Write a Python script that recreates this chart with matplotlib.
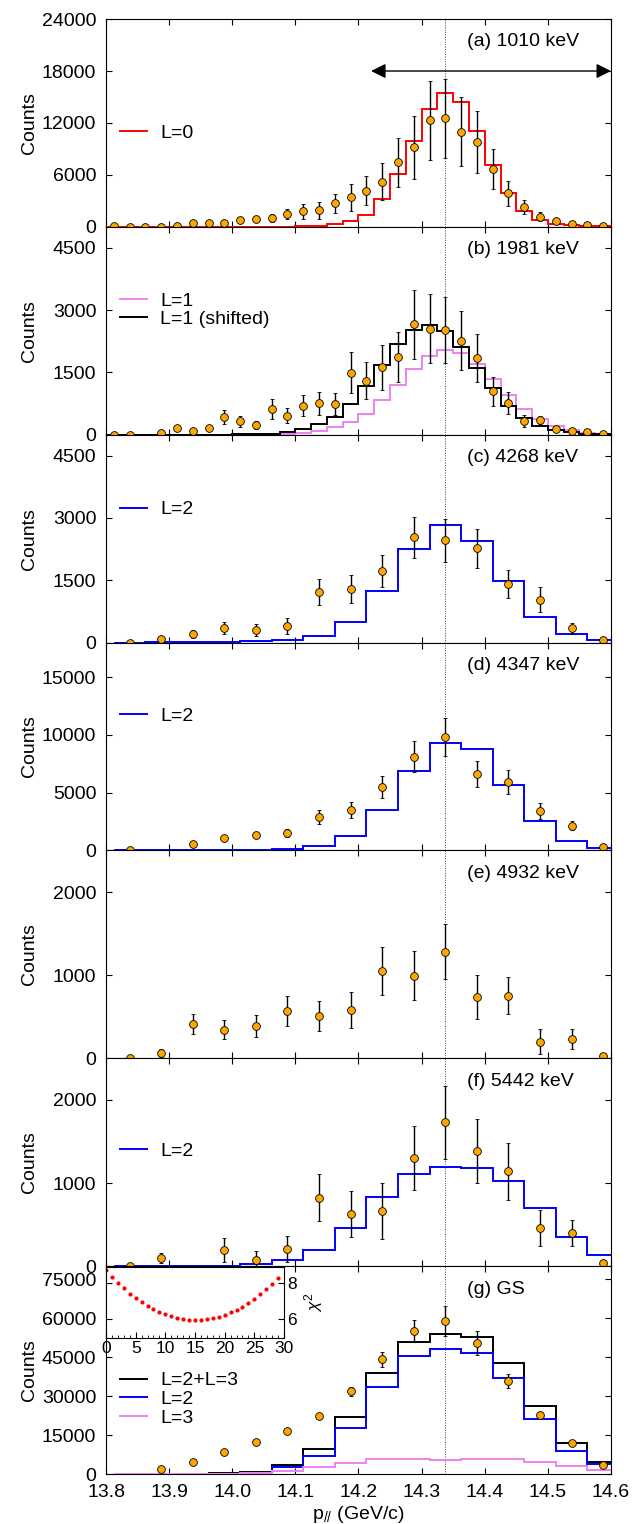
import numpy as np
import matplotlib
matplotlib.use('Agg')
import matplotlib.pyplot as plt
from matplotlib.ticker import MultipleLocator, FormatStrFormatter

plt.rcParams['font.family'] = ['Liberation Sans', 'DejaVu Sans']
plt.rcParams['mathtext.fontset'] = 'custom'
plt.rcParams['mathtext.rm'] = 'Liberation Sans'
plt.rcParams['mathtext.it'] = 'Liberation Sans:italic'
plt.rcParams['font.size'] = 14

# bin centres, p_par (GeV/c)
x_fine = [13.8125, 13.8375, 13.8625, 13.8875, 13.9125, 13.9375, 13.9625, 13.9875,
          14.0125, 14.0375, 14.0625, 14.0875, 14.1125, 14.1375, 14.1625, 14.1875,
          14.2125, 14.2375, 14.2625, 14.2875, 14.3125, 14.3375, 14.3625, 14.3875,
          14.4125, 14.4375, 14.4625, 14.4875, 14.5125, 14.5375, 14.5625, 14.5875]
x_coarse = [13.8375, 13.8875, 13.9375, 13.9875, 14.0375, 14.0875, 14.1375, 14.1875,
            14.2375, 14.2875, 14.3375, 14.3875, 14.4375, 14.4875, 14.5375, 14.5875]
x_ticks = [13.8, 13.9, 14.0, 14.1, 14.2, 14.3, 14.4, 14.5, 14.6]
nan = np.nan

# (a) 1010 keV
a_y = [50, 30, 40, 40, 150, 500, 400, 400, 800, 880, 1030, 1490, 1830, 1910, 2710, 3400,
       4200, 5240, 7450, 9210, 12300, 12570, 11000, 9860, 6650, 3860, 2290, 1150, 650, 340, 270, 150]
a_err = [50, 50, 50, 50, 100, 150, 150, 150, 300, 300, 500, 630, 860, 940, 1100, 1550,
         1700, 2100, 2870, 3630, 4530, 4560, 4000, 3580, 2300, 1410, 840, 520, 250, 150, 100, 80]
a_L0 = [0, 0, 0, 0, 0, 0, 0, 0, 0, 0, 20, 40, 60, 150, 350, 730,
        1410, 3170, 6080, 9900, 13640, 15510, 14450, 11120, 7110, 3900, 1800, 840, 380, 230, 150, 100]

# (b) 1981 keV
b_y = [0, 0, nan, 40, 170, 100, 170, 420, 320, 240, 620, 460, 700, 760, 740, 1490,
       1300, 1620, 1860, 2660, 2550, 2520, 2260, 1840, 1050, 760, 330, 360, 140, 100, 60, 20]
b_err = [20, 20, nan, 40, 50, 50, 50, 170, 140, 100, 230, 175, 260, 280, 265, 490,
         440, 540, 600, 830, 830, 790, 710, 580, 350, 265, 150, 100, 60, 40, 30, 20]
b_L1 = [0, 0, 0, 0, 0, 0, 0, 0, 0, 0, 5, 15, 50, 100, 190, 300,
        510, 840, 1190, 1580, 1890, 2030, 1960, 1700, 1330, 950, 615, 375, 215, 105, 50, 20]
b_L1s = [0, 0, 0, 0, 0, 0, 0, 5, 10, 15, 25, 60, 130, 250, 430, 745,
         1175, 1680, 2180, 2530, 2650, 2500, 2110, 1615, 1130, 700, 415, 210, 110, 65, 30, 15]

# (c) 4268 keV
c_y = [0, 90, 200, 350, 300, 390, 1220, 1290, 1720, 2530, 2460, 2270, 1410, 1030, 345, 55]
c_err = [20, 30, 100, 150, 150, 190, 310, 330, 390, 500, 510, 470, 345, 300, 130, 20]
c_L2 = [0, 5, 10, 15, 30, 55, 150, 490, 1240, 2250, 2830, 2450, 1480, 625, 200, 65]

# (d) 4347 keV
d_y = [0, nan, 550, 1070, 1300, 1530, 2910, 3520, 5480, 8130, 9830, 6600, 5940, 3430, 2160, 260]
d_err = [50, nan, 150, 150, 200, 370, 580, 690, 970, 1340, 1640, 1120, 1010, 680, 430, 100]
d_L2 = [0, 10, 15, 20, 60, 140, 375, 1270, 3520, 6920, 9340, 8790, 5710, 2510, 840, 230]

# (e) 4932 keV
e_y = [0, 60, 410, 345, 390, 570, 510, 580, 1050, 995, 1280, 740, 755, 200, 230, 30]
e_err = [15, 50, 120, 115, 135, 180, 185, 220, 290, 290, 330, 265, 225, 150, 120, 20]

# (f) 5442 keV
f_y = [0, 100, nan, 195, 80, 205, 825, 625, 665, 1300, 1730, 1385, 1140, 460, 395, 40]
f_err = [15, 60, nan, 145, 100, 160, 285, 275, 335, 380, 440, 380, 345, 215, 155, 30]
f_L2 = [0, 0, 0, 5, 20, 70, 200, 465, 830, 1110, 1195, 1180, 1030, 700, 355, 135]

# (g) GS
g_y = [nan, 1800, 4740, 8330, 12180, 16540, 22180, 31800, 44100, 55000, 58850, 50380, 35900, 22690, 11800, 3590]
g_err = [nan, 300, 400, 500, 600, 700, 800, 1700, 2750, 4360, 5640, 4490, 2750, 1280, 770, 600]
g_sum = [0, 0, 0, 250, 900, 3330, 9600, 22050, 38850, 51000, 53850, 52560, 42560, 26000, 11800, 4600]
g_L2 = [0, 0, 0, 150, 500, 2700, 7050, 17700, 33300, 45250, 48200, 46670, 37050, 21300, 8850, 3850]
g_L3 = [0, 0, 0, 100, 400, 1150, 2700, 4360, 5770, 5900, 5500, 5750, 5700, 4730, 2920, 1380]

# inset: chi^2 scan
chi_x = list(range(30))
chi_y = [8.71, 8.34, 8.00, 7.70, 7.40, 7.16, 6.92, 6.73, 6.54, 6.37, 6.24, 6.13, 6.04, 5.98, 5.94,
         5.94, 5.94, 5.98, 6.04, 6.11, 6.22, 6.36, 6.50, 6.67, 6.90, 7.12, 7.36, 7.64, 7.94, 8.28]

edges_fine = [c - 0.0125 for c in x_fine] + [x_fine[-1] + 0.0125]
edges_coarse = [c - 0.025 for c in x_coarse] + [x_coarse[-1] + 0.025]

RED, BLUE, VIOLET, BLACK = '#ff0000', '#0000ff', '#ee82ee', '#000000'
xmark = 14.3375

panels = [
    dict(x=x_fine, y=a_y, err=a_err, edges=edges_fine, hists=[(a_L0, RED, 'L=0')],
         ylim=24000, yticks=[0, 6000, 12000, 18000, 24000], label='(a) 1010 keV', leg=0.452),
    dict(x=x_fine, y=b_y, err=b_err, edges=edges_fine,
         hists=[(b_L1, VIOLET, 'L=1'), (b_L1s, BLACK, 'L=1 (shifted)')],
         ylim=5000, yticks=[0, 1500, 3000, 4500], label='(b) 1981 keV', leg=0.60),
    dict(x=x_coarse, y=c_y, err=c_err, edges=edges_coarse, hists=[(c_L2, BLUE, 'L=2')],
         ylim=5000, yticks=[0, 1500, 3000, 4500], label='(c) 4268 keV', leg=0.64),
    dict(x=x_coarse, y=d_y, err=d_err, edges=edges_coarse, hists=[(d_L2, BLUE, 'L=2')],
         ylim=18000, yticks=[0, 5000, 10000, 15000], label='(d) 4347 keV', leg=0.646),
    dict(x=x_coarse, y=e_y, err=e_err, edges=edges_coarse, hists=[],
         ylim=2500, yticks=[0, 1000, 2000], label='(e) 4932 keV', leg=None),
    dict(x=x_coarse, y=f_y, err=f_err, edges=edges_coarse, hists=[(f_L2, BLUE, 'L=2')],
         ylim=2500, yticks=[0, 1000, 2000], label='(f) 5442 keV', leg=0.553),
    dict(x=x_coarse, y=g_y, err=g_err, edges=edges_coarse,
         hists=[(g_sum, BLACK, 'L=2+L=3'), (g_L2, BLUE, 'L=2'), (g_L3, VIOLET, 'L=3')],
         ylim=80000, yticks=[0, 15000, 30000, 45000, 60000, 75000], label='(g) GS', leg=0.36),
]

fig, axes = plt.subplots(7, 1, figsize=(6.33, 15.24), dpi=100, sharex=True)
fig.subplots_adjust(left=0.1675, right=0.9652, top=0.9875, bottom=0.0328, hspace=0)

for ax, p in zip(axes, panels):
    for vals, color, lab in p['hists']:
        ax.stairs(vals, p['edges'], color=color, lw=1.4, label=lab, zorder=3)
    ax.axvline(xmark, color='#444444', lw=0.7, ls=(0, (1, 1.5)), zorder=2)
    ax.errorbar(p['x'], p['y'], yerr=p['err'], fmt='o', ms=5.6, mfc='#ffa500', mec='black',
                mew=0.6, ecolor='black', elinewidth=1.0, capsize=1.3, capthick=1.0, zorder=5)
    ax.set_xlim(13.8, 14.6)
    ax.set_ylim(0, p['ylim'])
    ax.set_yticks(p['yticks'])
    ax.set_xticks(x_ticks)
    ax.tick_params(direction='in', length=4.3, width=0.8, top=True, right=True,
                   labelsize=14, pad=7)
    for s in ax.spines.values():
        s.set_linewidth(0.8)
    ax.set_ylabel('Counts', fontsize=14)
    ax.yaxis.set_label_coords(-0.135, 0.5)
    ax.text(0.715, 0.89, p['label'], transform=ax.transAxes, ha='left', va='center', fontsize=14)
    if p['leg'] is not None:
        ax.legend(loc='center left', bbox_to_anchor=(0.028, p['leg']), frameon=False,
                  handlelength=1.4, handletextpad=0.65, borderaxespad=0, borderpad=0,
                  labelspacing=0.05, fontsize=14)

axes[-1].xaxis.set_major_formatter(FormatStrFormatter('%.1f'))
axes[-1].set_xlabel(r'p$_{//}$ (GeV/c)', fontsize=14, labelpad=2)

# double arrow in (a)
axes[0].annotate('', xy=(14.6, 18000), xytext=(14.22, 18000),
                 arrowprops=dict(arrowstyle='<|-|>', color='black', lw=1.0,
                                 mutation_scale=22, shrinkA=0, shrinkB=0))

# inset chi^2
axin = fig.add_axes([0.1675, 0.122, 0.2812, 0.0466])
axin.plot(chi_x, chi_y, ls='none', marker='o', ms=2.0, color='red')
axin.set_xlim(0, 30)
axin.set_ylim(4.9, 8.9)
axin.set_xticks([0, 5, 10, 15, 20, 25, 30])
axin.xaxis.set_minor_locator(MultipleLocator(1))
axin.set_yticks([6, 8])
axin.yaxis.tick_right()
axin.yaxis.set_label_position('right')
axin.tick_params(which='both', direction='in', labelsize=12.5, left=True, right=True, pad=2)
axin.tick_params(which='major', length=4, width=0.8)
axin.tick_params(which='minor', length=2, width=0.6)
for s in axin.spines.values():
    s.set_linewidth(0.8)
axin.set_ylabel(r'$\chi^2$', fontsize=12.5, labelpad=4)

fig.savefig('out.png', dpi=100)
